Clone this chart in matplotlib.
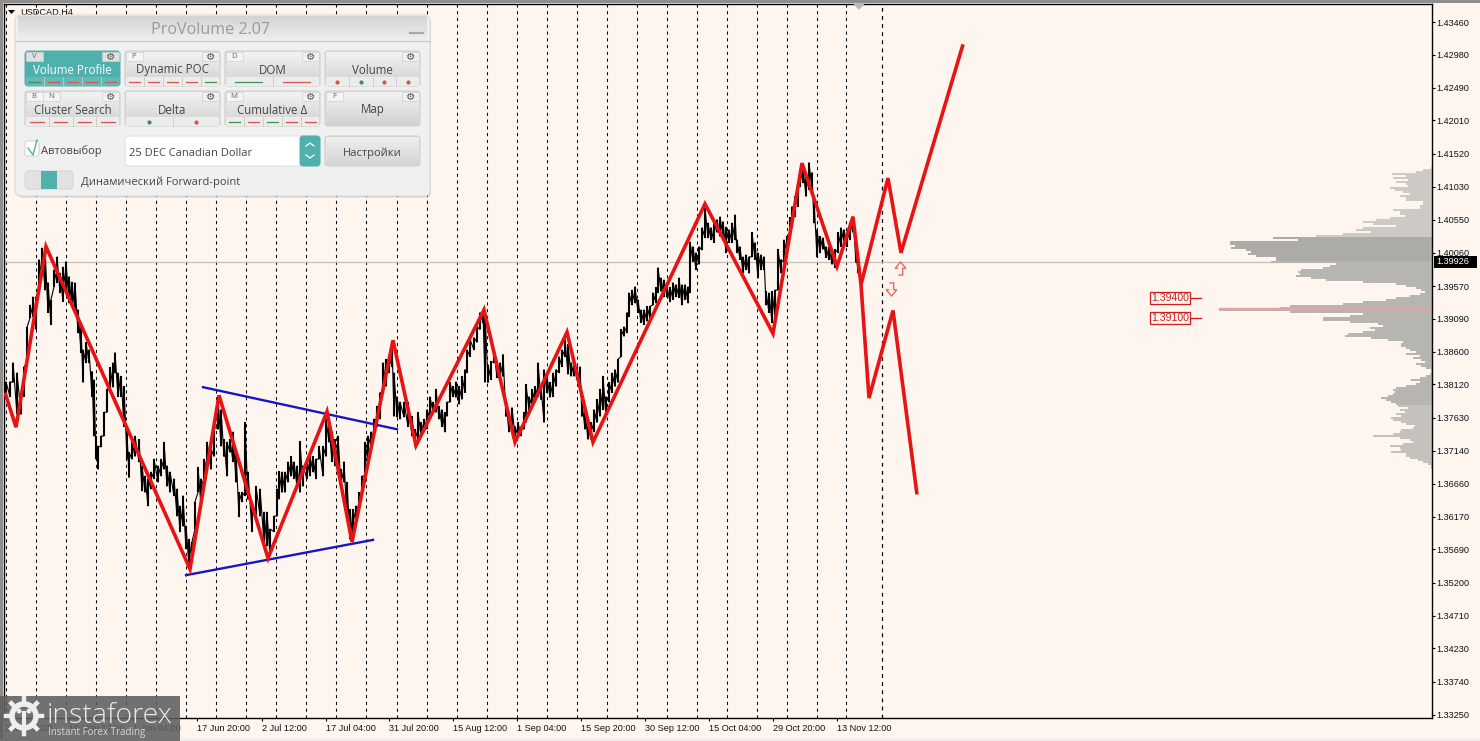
import numpy as np
import matplotlib
matplotlib.use('Agg')
import matplotlib.pyplot as plt
from matplotlib.patches import FancyBboxPatch, Rectangle, Polygon, Circle

BG = '#fff5ef'
TEAL = '#4fb0ad'
GREEN = '#3f8f55'
RED = '#d9534f'

# price axis
tick_prices = [1.43460, 1.42980, 1.42490, 1.42010, 1.41520, 1.41030, 1.40550, 1.40060,
               1.39570, 1.39090, 1.38600, 1.38120, 1.37630, 1.37140, 1.36660, 1.36170,
               1.35690, 1.35200, 1.34710, 1.34230, 1.33740, 1.33250]
date_bars = [5, 69, 133, 197, 262, 326, 389, 453, 517, 581, 645, 709, 773, 837]
date_labels = ['2 May 2025', '19 May 12:00', '1 Jun 04:00', '17 Jun 20:00', '2 Jul 12:00',
               '17 Jul 04:00', '31 Jul 20:00', '15 Aug 12:00', '1 Sep 04:00', '15 Sep 20:00',
               '30 Sep 12:00', '15 Oct 04:00', '29 Oct 20:00', '13 Nov 12:00']
session_bars = [6, 36, 66, 96, 126, 156, 186, 216, 246, 276, 306, 336, 366, 397, 427, 457, 487,
                517, 547, 577, 607, 637, 667, 697, 727, 757, 787, 817, 846]
last_session_bar = 882
last_price = 1.39926

# price range per column
bar_x = [6, 10, 13, 17, 21, 24, 27, 30, 33, 36,
         39, 42, 45, 48, 51, 54, 57, 60, 63, 66,
         69, 72, 75, 78, 81, 83, 86, 89, 92, 94,
         96, 98, 101, 104, 107, 110, 113, 115, 118, 121,
         124, 127, 129, 132, 135, 139, 142, 145, 148, 151,
         154, 158, 161, 164, 167, 170, 174, 177, 180, 183,
         186, 189, 192, 195, 198, 201, 204, 207, 211, 214,
         218, 221, 224, 227, 230, 233, 236, 239, 242, 245,
         248, 252, 256, 260, 264, 267, 270, 274, 277, 279,
         282, 285, 288, 291, 294, 297, 300, 303, 307, 310,
         313, 316, 319, 323, 326, 329, 332, 335, 338, 341,
         344, 347, 350, 353, 356, 359, 362, 365, 368, 371,
         374, 377, 380, 383, 386, 389, 392, 394, 397, 400,
         404, 408, 412, 415, 418, 421, 424, 427, 430, 433,
         436, 439, 442, 445, 447, 450, 453, 456, 459, 462,
         465, 467, 470, 474, 477, 480, 483, 485, 488, 491,
         494, 497, 500, 503, 506, 509, 512, 515, 518, 521,
         524, 526, 529, 532, 535, 538, 541, 544, 547, 550,
         553, 556, 559, 562, 565, 568, 571, 574, 577, 580,
         582, 585, 588, 591, 594, 597, 600, 603, 606, 609,
         612, 615, 618, 621, 624, 627, 629, 632, 635, 638,
         641, 644, 647, 650, 653, 656, 658, 661, 664, 667,
         670, 673, 676, 679, 682, 685, 688, 690, 693, 696,
         699, 702, 705, 708, 711, 714, 717, 720, 723, 726,
         729, 732, 735, 737, 740, 743, 746, 749, 752, 755,
         758, 761, 764, 766, 769, 772, 775, 778, 781, 784,
         787, 790, 792, 795, 798, 800, 803, 806, 809, 812,
         814, 817, 820, 823, 826, 829, 832, 835, 838, 841,
         844, 847, 850, 853, 856, 858]
bar_high = [1.3816, 1.3816, 1.3844, 1.3829, 1.3797, 1.3838, 1.3896, 1.3929, 1.3941, 1.3941,
            1.3996, 1.4013, 1.4010, 1.3962, 1.3937, 1.3981, 1.4000, 1.3976, 1.3985, 1.3993,
            1.3971, 1.3963, 1.3962, 1.3922, 1.3897, 1.3863, 1.3874, 1.3863, 1.3831, 1.3819,
            1.3736, 1.3721, 1.3736, 1.3771, 1.3805, 1.3837, 1.3844, 1.3859, 1.3829, 1.3824,
            1.3809, 1.3742, 1.3712, 1.3727, 1.3736, 1.3731, 1.3692, 1.3677, 1.3673, 1.3683,
            1.3702, 1.3692, 1.3702, 1.3727, 1.3692, 1.3683, 1.3673, 1.3658, 1.3633, 1.3648,
            1.3603, 1.3584, 1.3580, 1.3639, 1.3690, 1.3673, 1.3702, 1.3727, 1.3717, 1.3750,
            1.3794, 1.3775, 1.3731, 1.3727, 1.3731, 1.3742, 1.3712, 1.3653, 1.3653, 1.3756,
            1.3683, 1.3639, 1.3662, 1.3658, 1.3624, 1.3624, 1.3599, 1.3618, 1.3658, 1.3684,
            1.3683, 1.3683, 1.3698, 1.3706, 1.3698, 1.3692, 1.3728, 1.3692, 1.3702, 1.3706,
            1.3706, 1.3702, 1.3721, 1.3721, 1.3761, 1.3750, 1.3742, 1.3731, 1.3736, 1.3687,
            1.3698, 1.3668, 1.3628, 1.3628, 1.3633, 1.3653, 1.3677, 1.3727, 1.3736, 1.3742,
            1.3761, 1.3780, 1.3800, 1.3844, 1.3849, 1.3853, 1.3874, 1.3829, 1.3794, 1.3786,
            1.3786, 1.3786, 1.3765, 1.3746, 1.3771, 1.3756, 1.3761, 1.3775, 1.3794, 1.3786,
            1.3805, 1.3780, 1.3775, 1.3771, 1.3786, 1.3815, 1.3809, 1.3816, 1.3809, 1.3824,
            1.3834, 1.3863, 1.3878, 1.3881, 1.3897, 1.3918, 1.3919, 1.3918, 1.3841, 1.3846,
            1.3861, 1.3844, 1.3844, 1.3856, 1.3786, 1.3771, 1.3778, 1.3750, 1.3756, 1.3750,
            1.3771, 1.3812, 1.3794, 1.3805, 1.3809, 1.3844, 1.3809, 1.3834, 1.3824, 1.3815,
            1.3829, 1.3834, 1.3853, 1.3863, 1.3878, 1.3871, 1.3844, 1.3849, 1.3838, 1.3838,
            1.3786, 1.3771, 1.3750, 1.3756, 1.3775, 1.3790, 1.3805, 1.3824, 1.3794, 1.3815,
            1.3829, 1.3834, 1.3849, 1.3893, 1.3897, 1.3918, 1.3947, 1.3951, 1.3956, 1.3937,
            1.3922, 1.3922, 1.3927, 1.3927, 1.3947, 1.3955, 1.3984, 1.3969, 1.3966, 1.3956,
            1.3955, 1.3962, 1.3959, 1.3969, 1.3959, 1.3959, 1.3956, 1.4022, 1.4015, 1.4006,
            1.4015, 1.4043, 1.4072, 1.4050, 1.4043, 1.4050, 1.4055, 1.4059, 1.4052, 1.4044,
            1.4040, 1.4050, 1.4062, 1.4025, 1.4015, 1.4000, 1.4003, 1.4000, 1.4036, 1.4021,
            1.4006, 1.4003, 1.4000, 1.3949, 1.3947, 1.3949, 1.3951, 1.4011, 1.3996, 1.4025,
            1.4030, 1.4058, 1.4074, 1.4089, 1.4109, 1.4128, 1.4131, 1.4118, 1.4139, 1.4124,
            1.4084, 1.4040, 1.4030, 1.4028, 1.4015, 1.4015, 1.4006, 1.4011, 1.4036, 1.4043,
            1.4040, 1.4037, 1.4050, 1.4059, 1.4011, 1.3999]
bar_low = [1.3797, 1.3794, 1.3815, 1.3768, 1.3768, 1.3794, 1.3844, 1.3910, 1.3912, 1.3893,
           1.3951, 1.3971, 1.3951, 1.3918, 1.3900, 1.3956, 1.3962, 1.3947, 1.3934, 1.3951,
           1.3932, 1.3926, 1.3918, 1.3888, 1.3859, 1.3815, 1.3844, 1.3844, 1.3794, 1.3736,
           1.3702, 1.3687, 1.3720, 1.3736, 1.3771, 1.3805, 1.3808, 1.3829, 1.3794, 1.3794,
           1.3750, 1.3702, 1.3675, 1.3702, 1.3706, 1.3698, 1.3655, 1.3653, 1.3633, 1.3658,
           1.3673, 1.3668, 1.3677, 1.3687, 1.3662, 1.3653, 1.3648, 1.3618, 1.3595, 1.3603,
           1.3570, 1.3545, 1.3550, 1.3599, 1.3653, 1.3633, 1.3662, 1.3687, 1.3687, 1.3706,
           1.3746, 1.3721, 1.3706, 1.3677, 1.3712, 1.3698, 1.3668, 1.3617, 1.3639, 1.3648,
           1.3643, 1.3595, 1.3618, 1.3618, 1.3580, 1.3574, 1.3559, 1.3595, 1.3618, 1.3643,
           1.3653, 1.3653, 1.3668, 1.3677, 1.3673, 1.3662, 1.3653, 1.3662, 1.3673, 1.3677,
           1.3683, 1.3673, 1.3702, 1.3677, 1.3706, 1.3727, 1.3698, 1.3692, 1.3687, 1.3662,
           1.3668, 1.3614, 1.3584, 1.3580, 1.3609, 1.3628, 1.3648, 1.3677, 1.3698, 1.3721,
           1.3736, 1.3750, 1.3761, 1.3800, 1.3809, 1.3829, 1.3838, 1.3765, 1.3764, 1.3761,
           1.3764, 1.3750, 1.3736, 1.3721, 1.3731, 1.3736, 1.3742, 1.3746, 1.3761, 1.3771,
           1.3771, 1.3761, 1.3750, 1.3742, 1.3765, 1.3786, 1.3794, 1.3793, 1.3783, 1.3790,
           1.3800, 1.3829, 1.3853, 1.3863, 1.3874, 1.3893, 1.3903, 1.3815, 1.3815, 1.3819,
           1.3844, 1.3822, 1.3822, 1.3824, 1.3765, 1.3742, 1.3742, 1.3736, 1.3736, 1.3736,
           1.3746, 1.3756, 1.3775, 1.3780, 1.3786, 1.3794, 1.3790, 1.3756, 1.3800, 1.3793,
           1.3794, 1.3809, 1.3829, 1.3838, 1.3853, 1.3827, 1.3824, 1.3824, 1.3819, 1.3809,
           1.3765, 1.3746, 1.3731, 1.3731, 1.3742, 1.3756, 1.3765, 1.3775, 1.3765, 1.3786,
           1.3800, 1.3809, 1.3815, 1.3853, 1.3883, 1.3888, 1.3912, 1.3929, 1.3932, 1.3918,
           1.3903, 1.3900, 1.3905, 1.3910, 1.3929, 1.3932, 1.3947, 1.3949, 1.3941, 1.3941,
           1.3934, 1.3937, 1.3941, 1.3940, 1.3929, 1.3937, 1.3932, 1.3947, 1.3993, 1.3981,
           1.3989, 1.4010, 1.4028, 1.4028, 1.4025, 1.4021, 1.4036, 1.4030, 1.4030, 1.4006,
           1.4021, 1.4021, 1.4025, 1.4006, 1.3996, 1.3976, 1.3981, 1.3976, 1.4000, 1.3996,
           1.3969, 1.3981, 1.3981, 1.3929, 1.3918, 1.3903, 1.3912, 1.3951, 1.3976, 1.3992,
           1.4006, 1.4036, 1.4050, 1.4059, 1.4074, 1.4103, 1.4109, 1.4089, 1.4099, 1.4099,
           1.4050, 1.4000, 1.4006, 1.4011, 1.3999, 1.3996, 1.3989, 1.3984, 1.4006, 1.4015,
           1.4021, 1.4015, 1.4025, 1.4036, 1.3992, 1.3976]

# wave markup
wave_x = [5, 16, 46, 190, 219, 268, 327, 352, 393, 416, 484, 515, 567, 593, 705, 773, 802, 837, 853, 861]
wave_y = [1.3800, 1.3749, 1.4015, 1.3540, 1.3796, 1.3556, 1.3772, 1.3580, 1.3877, 1.3722,
          1.3922, 1.3727, 1.3889, 1.3727, 1.4078, 1.3887, 1.4138, 1.3986, 1.4059, 1.3959]
up_x = [861, 888, 901, 963]
up_y = [1.3959, 1.4116, 1.4006, 1.4313]
down_x = [861, 869, 893, 917]
down_y = [1.3959, 1.3792, 1.3921, 1.3650]
upper_x = [203, 397]
upper_y = [1.3808, 1.3746]
lower_x = [186, 373]
lower_y = [1.3531, 1.3583]
arrow_up = (900, 1.3983)
arrow_down = (891, 1.3952)

levels = [1.39400, 1.39100]
poc_price = 1.39240

# volume profile, one row per price step from the top
profile_top = 1.41309
profile_step = 0.000295
profile_volume = [1, 9, 16, 40, 26, 39, 24, 36, 26, 24,
                  42, 37, 29, 22, 32, 26, 26, 9, 9, 12,
                  12, 39, 32, 32, 27, 42, 56, 69, 59, 36,
                  69, 76, 61, 89, 116, 159, 134, 202, 202, 197,
                  201, 186, 181, 184, 176, 156, 156, 161, 96, 102,
                  109, 131, 134, 132, 136, 121, 106, 69, 36, 26,
                  16, 11, 7, 12, 22, 36, 46, 69, 89, 142,
                  152, 213, 142, 69, 82, 109, 109, 82, 54, 49,
                  62, 57, 69, 84, 87, 61, 44, 29, 31, 31,
                  26, 22, 16, 26, 12, 19, 11, 7, 16, 11,
                  6, 1, 1, 2, 6, 12, 21, 12, 16, 26,
                  36, 39, 37, 39, 44, 51, 46, 41, 36, 34,
                  24, 32, 27, 36, 31, 41, 39, 31, 26, 17,
                  19, 31, 32, 39, 59, 32, 22, 19, 29, 42,
                  32, 31, 41, 26, 26, 22, 14, 9, 4, 1, 1]

# panel buttons
button_labels = ['Volume Profile', 'Dynamic POC', 'DOM', 'Volume',
                 'Cluster Search', 'Delta', 'Cumulative Δ', 'Map']
button_keys = [['V'], ['P'], ['D'], [], ['B', 'N'], [], ['M'], ['F']]
button_dashes = ['grrrr', 'rrrrg', 'gr', '', 'rrrr', '', 'grgrr', '']
button_dots = ['', '', '', 'rgrr', '', 'gr', '', '']

plt.rcParams['font.family'] = ['Liberation Sans', 'DejaVu Sans']

W, H = 1480, 741
fig = plt.figure(figsize=(W / 100, H / 100), dpi=100, facecolor=BG)
ax = fig.add_axes([3.5 / W, 1 - 718 / H, (1432 - 3.5) / W, (718 - 3.5) / H], facecolor=BG)

slope = (tick_prices[0] - tick_prices[-1]) / 693
ax.set_xlim(3.5, 1432)
ax.set_ylim(tick_prices[-1] - 3 * slope, tick_prices[0] + 18.5 * slope)

ax.vlines(session_bars, *ax.get_ylim(), colors='black', lw=0.75, linestyles=(0, (3, 3.5)), zorder=1)
ax.vlines(last_session_bar, *ax.get_ylim(), colors='black', lw=0.9, linestyles=(0, (3, 3.5)), zorder=1)
ax.axhline(last_price, color='#c4beb9', lw=0.9, zorder=1.5)

# profile
rows = profile_top - profile_step * np.arange(len(profile_volume))
row_colors = []
for p in rows:
    if p > 1.4030:
        row_colors.append('#cdcac5')
    elif p > 1.3993:
        row_colors.append('#adaba8')
    elif p > 1.3780:
        row_colors.append('#b7b5b1')
    else:
        row_colors.append('#c5c2bd')
volume = np.array(profile_volume)
ax.barh(rows, volume, left=1432 - volume, height=profile_step, color=row_colors, lw=0, zorder=2)
ax.plot([1219, 1432], [poc_price, poc_price], color='#e9a3a0', lw=1, zorder=2.5)

# price
ax.vlines(bar_x, bar_low, bar_high, colors='black', lw=1.5, zorder=3)
ax.plot(np.repeat(bar_x, 2), np.column_stack([bar_low, bar_high]).ravel(), color='black', lw=0.8, zorder=3)

# markup
ax.plot(upper_x, upper_y, color='#1616c4', lw=1.7, zorder=4)
ax.plot(lower_x, lower_y, color='#1616c4', lw=1.7, zorder=4)
for xs, ys in [(wave_x, wave_y), (up_x, up_y), (down_x, down_y)]:
    ax.plot(xs, ys, color='#e61414', lw=2.6, solid_joinstyle='miter', solid_capstyle='butt', zorder=5)

arrow_shape = [(-0.17, -0.5), (0.17, -0.5), (0.17, 0.02), (0.4, 0.02), (0, 0.5), (-0.4, 0.02), (-0.17, 0.02)]
arrow_flip = [(vx, -vy) for vx, vy in arrow_shape]
ax.plot(*arrow_up, marker=arrow_shape, ms=9.5, mfc='#fff0ea', mec='#e2605b', mew=0.9, ls='none', zorder=5)
ax.plot(*arrow_down, marker=arrow_flip, ms=9.5, mfc='#fff0ea', mec='#e2605b', mew=0.9, ls='none', zorder=5)

for lev in levels:
    ax.plot([1191, 1201], [lev, lev], color='#cc1f1f', lw=1, zorder=5)
    ax.text(1170, lev, f'{lev:.5f}', color='#cc1f1f', fontsize=7.6, ha='center', va='center', zorder=6,
            bbox=dict(boxstyle='square,pad=0.1', fc=BG, ec='#cc1f1f', lw=0.9))

ax.yaxis.tick_right()
ax.set_yticks(tick_prices)
ax.set_yticklabels([f'{p:.5f}' for p in tick_prices])
ax.set_xticks(date_bars)
ax.set_xticklabels(date_labels, ha='left')
ax.tick_params(axis='both', length=2, width=0.8, labelsize=6.6, color='black', labelcolor='#111111')
ax.tick_params(axis='y', pad=1)
ax.tick_params(axis='x', pad=2.5)
for s in ax.spines.values():
    s.set_linewidth(1.0)
ytrans = ax.get_yaxis_transform()
ax.add_patch(Rectangle((1.0013, last_price - 6 * slope), 0.0305, 12 * slope, transform=ytrans,
                       fc='black', ec='none', clip_on=False, zorder=9))
ax.text(1.0033, last_price, f'{last_price:.5f}', transform=ytrans, color='white',
        fontsize=6.6, ha='left', va='center', zorder=10, clip_on=False)

# overlay in screen pixels: window frame, panel and logo
ov = fig.add_axes([0, 0, 1, 1], facecolor='none', zorder=10)
ov.set_xlim(0, W)
ov.set_ylim(H, 0)
ov.axis('off')


def box(x, y, w, h, fc, ec='#c9c9c9', r=3, lw=0.7, z=1, alpha=None):
    p = FancyBboxPatch((x + r, y + r), w - 2 * r, h - 2 * r, boxstyle=f'round,pad={r},rounding_size={r}',
                       fc=fc, ec=ec, lw=lw, zorder=z, alpha=alpha, mutation_aspect=1)
    ov.add_patch(p)


def gradient(x, y, w, h, c1, c2, z):
    g = np.linspace(0, 1, 32).reshape(-1, 1)
    cm = matplotlib.colors.LinearSegmentedColormap.from_list('g', [c1, c2])
    ov.imshow(g, extent=(x, x + w, y + h, y), cmap=cm, aspect='auto', zorder=z, interpolation='bilinear')


def strip_marks(x, y, w, code, kind):
    n = len(code)
    for i, c in enumerate(code):
        col = GREEN if c == 'g' else RED
        cx0 = x + w * i / n
        cx1 = x + w * (i + 1) / n
        if i:
            ov.plot([cx0, cx0], [y, y + 9], color='#c8c8c8', lw=0.6, zorder=6)
        if kind == 'dash':
            ov.plot([cx0 + (cx1 - cx0) * 0.22, cx1 - (cx1 - cx0) * 0.22], [y + 4.5, y + 4.5], color=col, lw=0.9, zorder=6)
        else:
            ov.plot((cx0 + cx1) / 2, y + 4.5, 'o', color=col, ms=3, mew=0, zorder=6)


ov.add_patch(Rectangle((0, 0), W, 2.5, fc='#8e8e8e', ec='none', zorder=0))
ov.add_patch(Rectangle((0, 0), 2.5, H, fc='#8e8e8e', ec='none', zorder=0))
ov.add_patch(Rectangle((0, 738.5), W, 3, fc='#eeeeee', ec='none', zorder=0))
ov.text(20, 12, 'USDCAD,H4', fontsize=6.6, color='#111111', va='center', zorder=0.5)
ov.add_patch(Polygon([[8, 10], [15, 10], [11.5, 14]], fc='black', ec='none', zorder=0.5))
ov.add_patch(Polygon([[853, 3.5], [865, 3.5], [859, 10]], fc='#b8b8b8', ec='none', zorder=0.5))

# panel
box(17, 17, 414, 181, '#b9b5b2', ec='none', r=6, alpha=0.35, z=1)
box(15, 15, 415, 181, '#f0f0f0', ec='#d6d6d6', r=6, z=1.5)
gradient(18, 16, 409, 25, '#d4d4d4', '#efefef', 2)
ov.plot([15, 430], [41, 41], color='#c8c8c8', lw=0.8, zorder=3)
ov.text(211, 30.5, 'ProVolume 2.07', family='Open Sans', fontsize=11.6, color='#9b9b9b', ha='center', va='center', zorder=4)
ov.plot([410, 423], [33, 33], color='#a8a8a8', lw=1.6, zorder=4)

for i, label in enumerate(button_labels):
    x = 25 + 100 * (i % 4)
    y = 51 + 40 * (i // 4)
    w, h = 95, 35
    active = i == 0
    if active:
        box(x, y, w, h, TEAL, ec=TEAL, z=3)
    else:
        box(x, y, w, h, '#e4e4e4', z=3)
        gradient(x + 1, y + 1, w - 2, h - 2, '#f2f2f2', '#d2d2d2', 3.1)
    strip_y = y + 26
    has_strip = button_dashes[i] or button_dots[i]
    if has_strip:
        ov.add_patch(Rectangle((x + 1, strip_y), w - 2, 8.5, fc='#62b8b5' if active else '#ececec', ec='none', zorder=4))
        if button_dashes[i]:
            strip_marks(x, strip_y, w, button_dashes[i], 'dash')
        else:
            strip_marks(x, strip_y, w, button_dots[i], 'dot')
    ov.text(x + w / 2, y + 19, label, family='Open Sans', fontsize=8.3,
            color='white' if active else '#454545', ha='center', va='center', zorder=6)
    # hotkey tabs and gear
    for k, key in enumerate(button_keys[i]):
        kx = x + 1 + k * 17
        ov.add_patch(Rectangle((kx, y + 1), 17, 9, fc='#e0e0e0' if active else '#f4f4f4', ec='#cfcfcf', lw=0.5, zorder=5))
        ov.text(kx + 8, y + 5.5, key, family='Open Sans', fontsize=5.6, color='#666666', ha='center', va='center', zorder=6)
    ov.add_patch(Rectangle((x + w - 18, y + 1), 17, 9, fc='#e0e0e0' if active else '#f0f0f0', ec='#cfcfcf', lw=0.5, zorder=5))
    ov.text(x + w - 9.5, y + 5.5, '⚙', family='DejaVu Sans', fontsize=7.5, color='#505050', ha='center', va='center', zorder=6)

# lower controls
box(25, 141, 14, 15, 'white', ec='#d0d0d0', r=2, z=3)
ov.plot([28, 33, 37], [148, 155, 140], color=TEAL, lw=1, zorder=5)
ov.text(41, 151, 'Автовыбор', family='Open Sans', fontsize=8, color='#454545', va='center', zorder=5)
box(125, 136, 195, 30, 'white', ec='#dddddd', r=4, z=3)
box(300, 136, 20, 30, TEAL, ec=TEAL, r=3, z=3.2)
ov.add_patch(Rectangle((300, 137), 5, 28, fc=TEAL, ec='none', zorder=3.3))
ov.plot([306, 310, 314], [146, 143, 146], color='white', lw=0.9, zorder=5)
ov.plot([306, 310, 314], [155, 158, 155], color='white', lw=0.9, zorder=5)
ov.text(129, 153, '25 DEC Canadian Dollar', family='Open Sans', fontsize=8, color='#454545', va='center', zorder=5)
box(325, 136, 95, 30, '#e4e4e4', z=3)
gradient(326, 137, 93, 28, '#f0f0f0', '#d4d4d4', 3.1)
ov.text(372.5, 153, 'Настройки', family='Open Sans', fontsize=8, color='#454545', ha='center', va='center', zorder=5)
box(25, 171, 48, 18, '#e2e2e2', ec='#d4d4d4', r=3, z=3)
ov.add_patch(Rectangle((41, 171), 16, 18, fc=TEAL, ec='none', zorder=4))
ov.text(81, 182, 'Динамический Forward-point', family='Open Sans', fontsize=8, color='#454545', va='center', zorder=5)

# watermark
ov.add_patch(Rectangle((0, 696), 180, 45, fc='#5f5f5f', ec='none', alpha=0.88, zorder=7))
ov.add_patch(Circle((24, 716), 12, fc='none', ec='#eeeeee', lw=4, zorder=8))
for a in np.linspace(0, 2 * np.pi, 8, endpoint=False):
    ov.plot([24 + 13 * np.cos(a), 24 + 18 * np.cos(a)], [716 + 13 * np.sin(a), 716 + 18 * np.sin(a)],
            color='#eeeeee', lw=3.2, zorder=8)
ov.add_patch(Circle((19, 711), 2.5, fc='#eeeeee', ec='none', zorder=8))
ov.add_patch(Circle((29, 711), 2.5, fc='#eeeeee', ec='none', zorder=8))
ov.plot([24, 24], [713, 728], color='#eeeeee', lw=3, zorder=8)
ov.text(47, 716, 'instaforex', family='Open Sans', fontsize=20.5, fontweight='light', color='#e8e8e8', va='center', zorder=8)
ov.text(48, 732, 'Instant Forex Trading', family='Open Sans', fontsize=7, color='#d6d6d6', va='center', zorder=8)
ov.set_xlim(0, W)
ov.set_ylim(H, 0)

fig.savefig('out.png', dpi=100, facecolor=BG)
